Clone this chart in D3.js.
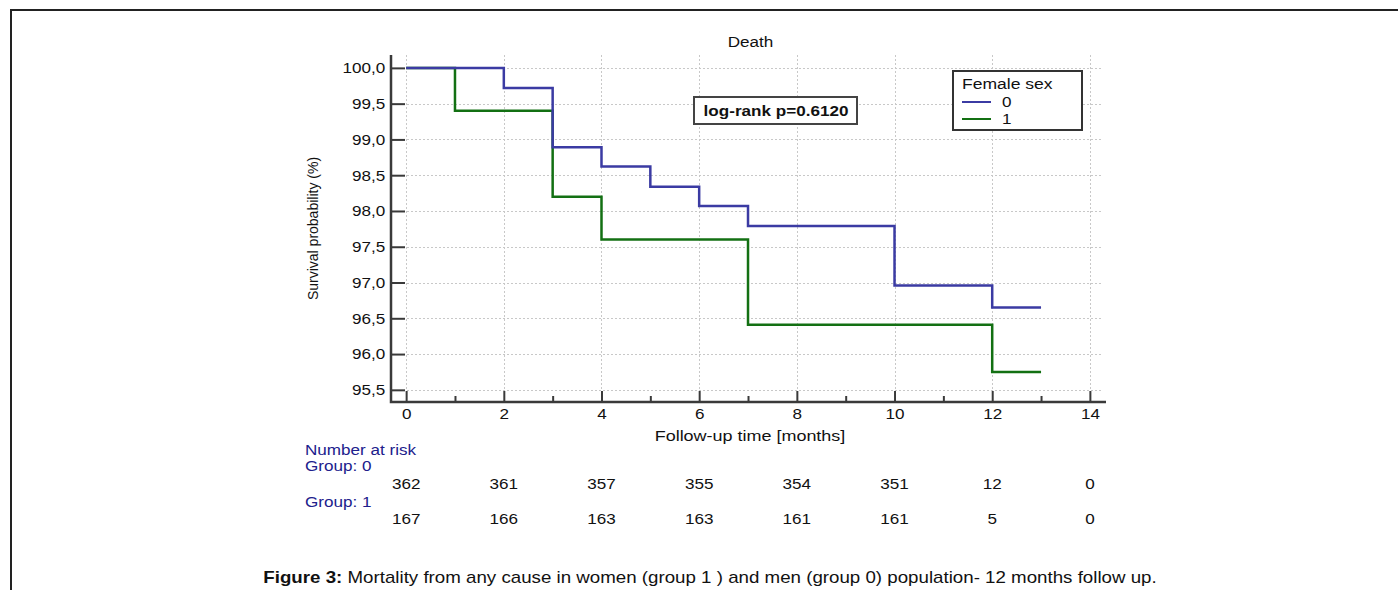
<!DOCTYPE html>
<html>
<head>
<meta charset="utf-8">
<script src="https://cdn.jsdelivr.net/npm/d3@7"></script>
<style>
  body { margin: 0; background: #fff; }
  svg { display: block; }
</style>
</head>
<body>
<div id="chart"></div>
<script>
// survival steps, group 0 (male) and group 1 (female)
const times0 = [0, 2, 3, 4, 5, 6, 7, 10, 12, 13];
const surv0 = [100, 99.72, 98.89, 98.62, 98.34, 98.07, 97.79, 96.96, 96.65, 96.65];
const times1 = [0, 1, 3, 4, 7, 12, 13];
const surv1 = [100, 99.40, 98.20, 97.60, 96.41, 95.75, 95.75];

// number at risk table
const riskTimes = [0, 2, 4, 6, 8, 10, 12, 14];
const risk0 = [362, 361, 357, 355, 354, 351, 12, 0];
const risk1 = [167, 166, 163, 163, 161, 161, 5, 0];

const yTicks = [95.5, 96, 96.5, 97, 97.5, 98, 98.5, 99, 99.5, 100];
const xTicks = [0, 2, 4, 6, 8, 10, 12, 14];
const xMinor = [1, 3, 5, 7, 9, 11, 13];

const groups = ["0", "1"];
const colors = ["#3b3ba3", "#137013"];

const W = 1398, H = 590;
const margin = { top: 55, right: 292, bottom: 188, left: 391 };
const font = "'Liberation Sans', Arial, sans-serif";
const sx = 1.14; // the source picture is a bit stretched sideways

const svg = d3.select("#chart").append("svg").attr("width", W).attr("height", H);

// text placed at (x,y), widened by k
function label(x, y, str, size, opts = {}) {
  return svg.append("text")
    .attr("transform", `translate(${x},${y}) scale(${opts.k || sx},1)`)
    .attr("text-anchor", opts.anchor || "start")
    .attr("fill", opts.fill || "#111")
    .style("font", `${opts.weight || ""} ${size}px ${font}`)
    .text(str);
}

// frame
svg.append("path")
  .attr("d", `M11,${H} L11,10 L${W},10`)
  .attr("fill", "none")
  .attr("stroke", "#222")
  .attr("stroke-width", 2);

const x = d3.scaleLinear().domain([-0.31, 14.33]).range([margin.left, W - margin.right]);
const y = d3.scaleLinear().domain([95.33, 100.18]).range([H - margin.bottom, margin.top]);

// grid
const grid = svg.append("g").attr("stroke", "#c8c8c8").attr("stroke-dasharray", "2,2").attr("stroke-width", 1);
grid.selectAll(".gy").data(yTicks).join("line")
  .attr("x1", x.range()[0]).attr("x2", x.range()[1] - 3)
  .attr("y1", d => Math.round(y(d)) + 0.5).attr("y2", d => Math.round(y(d)) + 0.5);
grid.selectAll(".gx").data(xTicks).join("line")
  .attr("y1", y.range()[1]).attr("y2", y.range()[0])
  .attr("x1", d => Math.round(x(d)) + 0.5).attr("x2", d => Math.round(x(d)) + 0.5);

// curves
const line = d3.line().x(d => x(d[0])).y(d => y(d[1])).curve(d3.curveStepAfter);
const series = [d3.zip(times0, surv0), d3.zip(times1, surv1)];
// green first, blue on top
[1, 0].forEach(i => {
  svg.append("path")
    .datum(series[i])
    .attr("fill", "none")
    .attr("stroke", colors[i])
    .attr("stroke-width", 2.5)
    .attr("d", line);
});

// axes
const yAxis = svg.append("g")
  .attr("transform", `translate(${margin.left},0)`)
  .call(d3.axisLeft(y).tickValues(yTicks).tickSize(-14).tickPadding(5)
    .tickFormat(d => d3.format(".1f")(d).replace(".", ",")));
yAxis.select(".domain").remove();

const xAxis = svg.append("g")
  .attr("transform", `translate(0,${H - margin.bottom})`)
  .call(d3.axisBottom(x).tickValues(xTicks).tickSize(-11).tickPadding(6));
xAxis.select(".domain").remove();

const xAxisMinor = svg.append("g")
  .attr("transform", `translate(0,${H - margin.bottom})`)
  .call(d3.axisBottom(x).tickValues(xMinor).tickSize(-6).tickFormat(""));
xAxisMinor.select(".domain").remove();

[yAxis, xAxis, xAxisMinor].forEach(g => {
  g.selectAll("line").attr("stroke", "#3a3a3a").attr("stroke-width", 2);
  g.selectAll("text").attr("fill", "#111").attr("transform", `scale(${sx},1)`).style("font", `15px ${font}`);
});

// axis lines
svg.append("path")
  .attr("d", `M${margin.left},${margin.top} L${margin.left},${H - margin.bottom} L${W - margin.right},${H - margin.bottom}`)
  .attr("fill", "none")
  .attr("stroke", "#3a3a3a")
  .attr("stroke-width", 2.5);

// title and axis labels
label(750.5, 47, "Death", 15, { anchor: "middle" });

svg.append("text")
  .attr("transform", `translate(318,${(margin.top + H - margin.bottom) / 2}) rotate(-90)`)
  .attr("text-anchor", "middle")
  .attr("fill", "#111")
  .style("font", `14px ${font}`)
  .text("Survival probability (%)");

label(750, 441, "Follow-up time [months]", 15.5, { anchor: "middle", k: 1.16 });

// log-rank box
svg.append("rect")
  .attr("x", 694).attr("y", 97).attr("width", 163).attr("height", 27)
  .attr("fill", "#fff").attr("stroke", "#444").attr("stroke-width", 2);
label(776, 116, "log-rank p=0.6120", 15, { anchor: "middle", weight: "bold" });

// legend
svg.append("rect")
  .attr("x", 953).attr("y", 71).attr("width", 129).attr("height", 59)
  .attr("fill", "#fff").attr("stroke", "#333").attr("stroke-width", 2);
label(962, 89, "Female sex", 15, { k: 1.17 });
groups.forEach((g, i) => {
  const yy = 102 + i * 17;
  svg.append("line")
    .attr("x1", 962).attr("x2", 991).attr("y1", yy).attr("y2", yy)
    .attr("stroke", colors[i]).attr("stroke-width", 2);
  label(1002, yy + 5, g, 15);
});

// number at risk
const navy = "#20208c";
label(305, 455, "Number at risk", 15, { fill: navy });
label(305, 471, "Group: 0", 15, { fill: navy });
label(305, 507, "Group: 1", 15, { fill: navy });

[risk0, risk1].forEach((arr, gi) => {
  arr.forEach((d, i) => label(x(riskTimes[i]), gi === 0 ? 489 : 524, d, 15, { anchor: "middle" }));
});

// caption
const cap = svg.append("text")
  .attr("transform", `translate(710,583) scale(1.17,1)`)
  .attr("text-anchor", "middle")
  .attr("fill", "#111")
  .style("font", `16px ${font}`);
cap.append("tspan").attr("font-weight", "bold").text("Figure 3:");
cap.append("tspan").text(" Mortality from any cause in women (group 1 ) and men (group 0) population- 12 months follow up.");
</script>
</body>
</html>
